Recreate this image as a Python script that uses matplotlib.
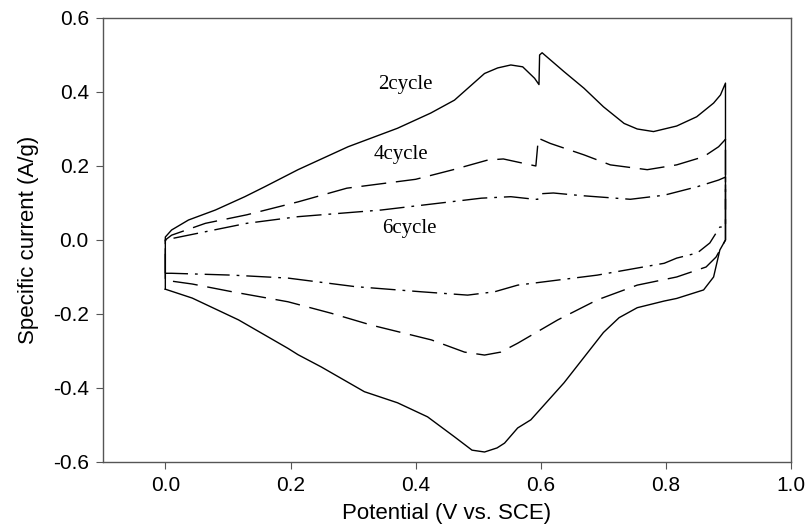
import numpy as np
import matplotlib.pyplot as plt

# cyclic voltammograms, potential (V vs. SCE) and specific current (A/g)
pot_2 = [0.0, 0.0, 0.01, 0.037, 0.08, 0.127, 0.159, 0.212, 0.292, 0.371, 0.424, 0.462,
         0.49, 0.51, 0.531, 0.552, 0.571, 0.59, 0.597, 0.598, 0.602, 0.637, 0.669, 0.70,
         0.733, 0.754, 0.78, 0.817, 0.849, 0.876, 0.887, 0.895, 0.895, 0.886, 0.876, 0.86,
         0.817, 0.797, 0.754, 0.725, 0.70, 0.637, 0.584, 0.563, 0.542, 0.53, 0.51, 0.49,
         0.462, 0.419, 0.371, 0.318, 0.249, 0.212, 0.196, 0.117, 0.043, 0.0]
cur_2 = [-0.133, 0.008, 0.027, 0.054, 0.081, 0.117, 0.144, 0.190, 0.252, 0.302, 0.343, 0.378,
         0.42, 0.45, 0.465, 0.473, 0.468, 0.437, 0.42, 0.50, 0.506, 0.455, 0.41, 0.36,
         0.315, 0.30, 0.293, 0.308, 0.333, 0.37, 0.392, 0.424, 0.0, -0.027, -0.10, -0.135,
         -0.158, -0.165, -0.183, -0.21, -0.25, -0.386, -0.486, -0.508, -0.549, -0.562, -0.573, -0.568,
         -0.532, -0.478, -0.44, -0.41, -0.343, -0.31, -0.293, -0.216, -0.157, -0.133]

pot_4 = [0.0, 0.0, 0.01, 0.064, 0.13, 0.212, 0.29, 0.40, 0.46, 0.515, 0.54, 0.57, 0.592,
         0.596, 0.615, 0.669, 0.711, 0.77, 0.817, 0.86, 0.884, 0.895, 0.895, 0.88, 0.864,
         0.817, 0.754, 0.69, 0.627, 0.563, 0.536, 0.51, 0.478, 0.425, 0.329, 0.265, 0.196,
         0.107, 0.043, 0.005, 0.0]
cur_4 = [-0.105, 0.0, 0.013, 0.045, 0.068, 0.103, 0.14, 0.164, 0.19, 0.216, 0.219, 0.208, 0.20,
         0.275, 0.261, 0.23, 0.203, 0.19, 0.203, 0.225, 0.252, 0.272, 0.0, -0.046, -0.073,
         -0.10, -0.122, -0.162, -0.216, -0.279, -0.303, -0.311, -0.303, -0.27, -0.23, -0.198, -0.167,
         -0.14, -0.119, -0.11, -0.105]

pot_6 = [0.0, 0.0, 0.005, 0.13, 0.212, 0.345, 0.505, 0.552, 0.59, 0.595, 0.60, 0.62, 0.664,
         0.743, 0.797, 0.85, 0.884, 0.895, 0.895, 0.886, 0.87, 0.85, 0.817, 0.797, 0.69,
         0.563, 0.526, 0.483, 0.409, 0.303, 0.196, 0.107, 0.01, 0.0]
cur_6 = [-0.09, 0.0, 0.002, 0.045, 0.063, 0.081, 0.113, 0.117, 0.11, 0.11, 0.125, 0.127, 0.12,
         0.11, 0.121, 0.144, 0.162, 0.17, 0.035, 0.035, -0.008, -0.035, -0.049, -0.063, -0.095,
         -0.122, -0.14, -0.149, -0.14, -0.126, -0.103, -0.095, -0.09, -0.09]

labels = ["2cycle", "4cycle", "6cycle"]
label_pos = [(0.383, 0.419), (0.376, 0.23), (0.39, 0.032)]

fig = plt.figure(figsize=(8.09, 5.32), dpi=100)
ax = fig.add_axes([0.127, 0.1316, 0.851, 0.8346])

ax.plot(pot_2, cur_2, color="black", lw=1.0, linestyle="-")
ax.plot(pot_4, cur_4, color="black", lw=1.0, linestyle=(0, (18, 7)))
ax.plot(pot_6, cur_6, color="black", lw=1.0, linestyle=(0, (18, 5, 2, 5)))

for txt, (x, y) in zip(labels, label_pos):
    ax.text(x, y, txt, ha="center", va="center", fontsize=15, family="Liberation Serif")

ax.set_xlim(-0.1, 1.0)
ax.set_ylim(-0.6, 0.6)
ax.set_xticks(np.arange(0.0, 1.01, 0.2))
ax.set_yticks(np.arange(-0.6, 0.61, 0.2))
ax.xaxis.set_major_formatter(plt.FormatStrFormatter("%.1f"))
ax.yaxis.set_major_formatter(plt.FormatStrFormatter("%.1f"))

for s in ax.spines.values():
    s.set_color("#555555")
    s.set_linewidth(1.0)
ax.tick_params(direction="out", length=5, width=0.8, color="#555555",
               labelsize=15, pad=5, top=False, right=False)
for lab in ax.get_xticklabels() + ax.get_yticklabels():
    lab.set_family("Liberation Sans")

ax.set_xlabel("Potential (V vs. SCE)", fontsize=16, family="Liberation Sans", labelpad=6)
ax.set_ylabel("Specific current (A/g)", fontsize=16, family="Liberation Sans", labelpad=10)

fig.savefig("out.png", dpi=100)
